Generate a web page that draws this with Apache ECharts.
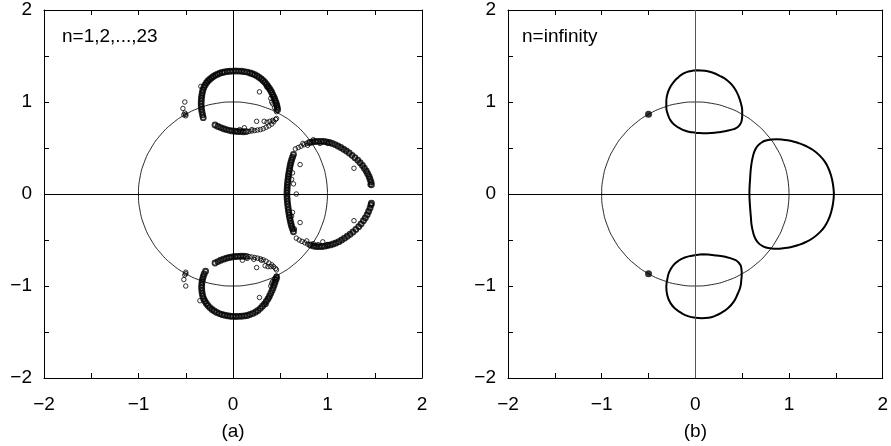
<!DOCTYPE html>
<html>
<head>
<meta charset="utf-8">
<script src="https://cdn.jsdelivr.net/npm/echarts@6/dist/echarts.min.js"></script>
<style>
  html, body { margin: 0; padding: 0; background: #fff; }
  #main { width: 891px; height: 446px; }
</style>
</head>
<body>
<div id="main"></div>
<script>
var dom = document.getElementById('main');
var myChart = echarts.init(dom);
var option;

var FONT = 'Liberation Sans';
var panelLabels = ['(a)', '(b)'];
var panelNotes = ['n=1,2,...,23', 'n=infinity'];

// unit circle
var unitCircle = [
    [1, 0], [0.985, 0.174], [0.94, 0.342], [0.866, 0.5], [0.766, 0.643], [0.643, 0.766],
    [0.5, 0.866], [0.342, 0.94], [0.174, 0.985], [0, 1], [-0.174, 0.985], [-0.342, 0.94],
    [-0.5, 0.866], [-0.643, 0.766], [-0.766, 0.643], [-0.866, 0.5], [-0.94, 0.342], [-0.985, 0.174],
    [-1, 0], [-0.985, -0.174], [-0.94, -0.342], [-0.866, -0.5], [-0.766, -0.643], [-0.643, -0.766],
    [-0.5, -0.866], [-0.342, -0.94], [-0.174, -0.985], [0, -1], [0.174, -0.985], [0.342, -0.94],
    [0.5, -0.866], [0.643, -0.766], [0.766, -0.643], [0.866, -0.5], [0.94, -0.342], [0.985, -0.174], [1, 0]
];

// panel (a): roots for n=1..23, dense bands
var aTopOuter = [
    [-0.315, 0.83], [-0.322, 0.86], [-0.328, 0.89], [-0.333, 0.92], [-0.336, 0.95], [-0.337, 0.98],
    [-0.336, 1.01], [-0.334, 1.04], [-0.33, 1.07], [-0.325, 1.10], [-0.318, 1.13], [-0.308, 1.16],
    [-0.295, 1.185], [-0.28, 1.21], [-0.265, 1.228], [-0.248, 1.245], [-0.228, 1.262], [-0.208, 1.277],
    [-0.186, 1.29], [-0.163, 1.302], [-0.14, 1.312], [-0.115, 1.32], [-0.09, 1.326], [-0.06, 1.331],
    [-0.03, 1.334], [0, 1.336], [0.03, 1.337], [0.06, 1.336], [0.09, 1.334], [0.12, 1.33],
    [0.15, 1.325], [0.18, 1.316], [0.205, 1.307], [0.23, 1.296], [0.255, 1.283], [0.278, 1.267],
    [0.3, 1.25], [0.32, 1.232], [0.338, 1.212], [0.355, 1.19], [0.37, 1.168], [0.385, 1.146],
    [0.398, 1.125], [0.41, 1.103], [0.42, 1.08], [0.43, 1.058], [0.44, 1.035], [0.448, 1.012],
    [0.456, 0.99], [0.463, 0.965], [0.468, 0.94], [0.472, 0.915]
];
var aTopInner = [
    [-0.19, 0.75], [-0.16, 0.735], [-0.13, 0.722], [-0.1, 0.71], [-0.07, 0.70], [-0.04, 0.692],
    [-0.01, 0.686], [0.02, 0.682], [0.05, 0.68], [0.08, 0.678], [0.11, 0.677], [0.14, 0.678]
];
var aRightOuterUp = [
    [0.81, 0.56], [0.84, 0.565], [0.87, 0.57], [0.9, 0.572], [0.93, 0.572], [0.96, 0.57],
    [0.99, 0.567], [1.02, 0.56], [1.05, 0.55], [1.08, 0.537], [1.11, 0.522], [1.14, 0.505],
    [1.17, 0.487], [1.2, 0.467], [1.23, 0.445], [1.26, 0.42], [1.29, 0.395], [1.32, 0.368],
    [1.345, 0.34], [1.37, 0.31], [1.39, 0.28], [1.41, 0.25], [1.425, 0.22], [1.44, 0.19],
    [1.45, 0.16], [1.46, 0.13], [1.465, 0.10]
];
var aRightInnerUp = [
    [0.64, 0.43], [0.63, 0.40], [0.62, 0.37], [0.612, 0.34], [0.605, 0.31], [0.6, 0.28],
    [0.595, 0.25], [0.59, 0.22], [0.586, 0.19], [0.582, 0.16], [0.579, 0.13], [0.576, 0.10],
    [0.574, 0.07], [0.572, 0.04], [0.571, 0.01]
];
var aRightInnerLow = [
    [0.571, -0.02], [0.573, -0.05], [0.575, -0.08], [0.578, -0.11], [0.582, -0.14], [0.586, -0.17],
    [0.59, -0.2], [0.595, -0.23], [0.6, -0.26], [0.606, -0.29], [0.613, -0.32], [0.62, -0.35],
    [0.63, -0.38], [0.64, -0.41]
];
var aRightOuterLow = [
    [0.82, -0.555], [0.85, -0.565], [0.88, -0.57], [0.91, -0.572], [0.94, -0.57], [0.97, -0.567],
    [1.0, -0.56], [1.03, -0.553], [1.06, -0.544], [1.09, -0.533], [1.12, -0.518], [1.15, -0.50],
    [1.18, -0.48], [1.21, -0.46], [1.24, -0.437], [1.27, -0.413], [1.3, -0.385], [1.33, -0.355],
    [1.355, -0.325], [1.38, -0.29], [1.4, -0.26], [1.42, -0.225], [1.435, -0.19], [1.45, -0.155],
    [1.46, -0.12], [1.465, -0.10]
];
var aBottomInner = [
    [-0.19, -0.75], [-0.16, -0.735], [-0.13, -0.72], [-0.1, -0.708], [-0.07, -0.698], [-0.04, -0.69],
    [-0.01, -0.684], [0.02, -0.68], [0.05, -0.678], [0.08, -0.677], [0.11, -0.677], [0.14, -0.678]
];
var aBottomOuter = [
    [-0.29, -0.84], [-0.305, -0.87], [-0.315, -0.90], [-0.323, -0.93], [-0.328, -0.96], [-0.331, -0.99],
    [-0.332, -1.02], [-0.33, -1.05], [-0.326, -1.08], [-0.32, -1.11], [-0.31, -1.14], [-0.297, -1.165],
    [-0.282, -1.19], [-0.265, -1.213], [-0.245, -1.235], [-0.222, -1.255], [-0.198, -1.272], [-0.172, -1.287],
    [-0.145, -1.3], [-0.117, -1.31], [-0.088, -1.318], [-0.058, -1.324], [-0.028, -1.328], [0, -1.33],
    [0.03, -1.331], [0.06, -1.33], [0.09, -1.328], [0.12, -1.325], [0.15, -1.32], [0.18, -1.31],
    [0.21, -1.298], [0.24, -1.283], [0.265, -1.265], [0.29, -1.243], [0.312, -1.22], [0.333, -1.195],
    [0.352, -1.168], [0.37, -1.14], [0.386, -1.11], [0.4, -1.08], [0.413, -1.05], [0.425, -1.02],
    [0.435, -0.99], [0.445, -0.96], [0.455, -0.93], [0.462, -0.905]
];
// panel (a): sparse roots away from the bands
var aStray = [
    [0.28, 1.11], [0.36, 1.16], [0.40, 1.04], [0.41, 1.0], [0.42, 0.98], [0.44, 0.94], [0.46, 0.895],
    [0.17, 0.68], [0.2, 0.685], [0.23, 0.69], [0.26, 0.695], [0.29, 0.70], [0.32, 0.71],
    [0.35, 0.725], [0.38, 0.74], [0.41, 0.76], [0.43, 0.785], [0.45, 0.81], [0.46, 0.82],
    [0.07, 0.70], [0.12, 0.72], [0.2, 0.70], [0.25, 0.79], [0.33, 0.79], [0.36, 0.78], [0.39, 0.79], [0.42, 0.80],
    [0.66, 0.49], [0.69, 0.505], [0.72, 0.52], [0.75, 0.535], [0.78, 0.55],
    [0.74, 0.55], [0.79, 0.53], [0.85, 0.59], [0.92, 0.55], [1.0, 0.55], [1.28, 0.28], [1.45, 0.10],
    [0.71, 0.32], [0.63, 0.23], [0.62, 0.16], [0.64, 0.11], [0.67, 0.0],
    [0.71, -0.31], [0.63, -0.2], [0.62, -0.24], [0.65, -0.38],
    [0.67, -0.48], [0.70, -0.50], [0.73, -0.515], [0.76, -0.53], [0.79, -0.545],
    [0.78, -0.51], [0.85, -0.54], [0.9, -0.55], [0.95, -0.52], [1.0, -0.55], [1.28, -0.29],
    [0.17, -0.68], [0.2, -0.685], [0.23, -0.69], [0.26, -0.697], [0.29, -0.705], [0.32, -0.715],
    [0.35, -0.73], [0.38, -0.75], [0.41, -0.77], [0.43, -0.79], [0.45, -0.81], [0.46, -0.825],
    [0.1, -0.72], [0.15, -0.70], [0.22, -0.71], [0.25, -0.8], [0.3, -0.72], [0.34, -0.78], [0.37, -0.79], [0.4, -0.79],
    [0.28, -1.125], [0.35, -1.2], [0.38, -1.13], [0.4, -1.0], [0.41, -0.97], [0.42, -0.95], [0.44, -0.92], [0.46, -0.89],
    [-0.5, 0.866], [-0.5, 0.85], [-0.51, 0.88], [-0.52, 0.86], [-0.53, 0.93], [-0.51, 1.0], [-0.34, 1.17],
    [-0.5, -0.866], [-0.5, -0.85], [-0.51, -0.88], [-0.52, -0.93], [-0.5, -1.0], [-0.35, -1.16]
];

// panel (b): limit curves
var bTopLoop = [
    [0.02, 1.344], [0.1, 1.34], [0.18, 1.32], [0.26, 1.285], [0.335, 1.24], [0.395, 1.18],
    [0.44, 1.11], [0.47, 1.04], [0.49, 0.97], [0.5, 0.91], [0.5, 0.85], [0.495, 0.80],
    [0.48, 0.76], [0.45, 0.725], [0.41, 0.705], [0.33, 0.685], [0.25, 0.672], [0.17, 0.663],
    [0.106, 0.66], [0.035, 0.663], [-0.035, 0.67], [-0.1, 0.685], [-0.16, 0.71], [-0.22, 0.75],
    [-0.265, 0.80], [-0.295, 0.87], [-0.31, 0.94], [-0.31, 1.01], [-0.30, 1.08], [-0.275, 1.15],
    [-0.23, 1.22], [-0.18, 1.27], [-0.125, 1.31], [-0.055, 1.335], [0.02, 1.344]
];
var bRightLoop = [
    [1.479, 0], [1.47, 0.1], [1.45, 0.195], [1.42, 0.28], [1.38, 0.354], [1.325, 0.42],
    [1.256, 0.478], [1.18, 0.522], [1.097, 0.555], [1.015, 0.578], [0.937, 0.59], [0.87, 0.595],
    [0.81, 0.592], [0.755, 0.582], [0.707, 0.56], [0.667, 0.525], [0.637, 0.478], [0.615, 0.41],
    [0.6, 0.335], [0.59, 0.25], [0.584, 0.16], [0.579, 0.08], [0.577, 0], [0.58, -0.08],
    [0.586, -0.17], [0.593, -0.255], [0.6, -0.336], [0.615, -0.41], [0.637, -0.478], [0.667, -0.525],
    [0.707, -0.56], [0.755, -0.582], [0.81, -0.592], [0.87, -0.595], [0.937, -0.59], [1.015, -0.578],
    [1.097, -0.555], [1.18, -0.522], [1.256, -0.478], [1.325, -0.42], [1.38, -0.354], [1.42, -0.28],
    [1.45, -0.195], [1.47, -0.1], [1.479, 0]
];
var bBottomLoop = [
    [0.07, -0.655], [0.2, -0.665], [0.32, -0.683], [0.41, -0.71], [0.46, -0.743], [0.49, -0.8],
    [0.495, -0.867], [0.49, -0.94], [0.48, -1.01], [0.45, -1.09], [0.41, -1.17], [0.35, -1.24],
    [0.28, -1.29], [0.21, -1.325], [0.14, -1.345], [0.07, -1.35], [0, -1.345], [-0.07, -1.33],
    [-0.14, -1.30], [-0.21, -1.25], [-0.265, -1.186], [-0.3, -1.1], [-0.31, -1.01], [-0.3, -0.93],
    [-0.28, -0.85], [-0.24, -0.78], [-0.18, -0.726], [-0.12, -0.693], [-0.05, -0.673], [0.07, -0.655]
];
var bDots = [[-0.5, 0.866], [-0.5, -0.866]];

var aDense = [].concat(aTopOuter, aTopInner, aRightOuterUp, aRightInnerUp,
    aRightInnerLow, aRightOuterLow, aBottomInner, aBottomOuter);

function tickLabel(v) {
    if (Math.abs(v - Math.round(v)) > 1e-9) return '';
    return v < 0 ? '\u2212' + (-v) : String(v);
}

var grids = [
    { left: 44, top: 10, width: 378, height: 377 },
    { left: 508, top: 10, width: 378, height: 377 }
];

var xAxes = [], yAxes = [];
grids.forEach(function (g, i) {
    var common = {
        gridIndex: i, type: 'value', min: -2, max: 2, interval: 0.5,
        axisLine: { show: true, onZero: false, lineStyle: { color: '#000', width: 1 } },
        axisTick: { show: true, inside: true, length: 5, lineStyle: { color: '#000' } },
        splitLine: { show: false }
    };
    var lab = { formatter: tickLabel, fontSize: 19, color: '#000', fontFamily: FONT };
    xAxes.push(Object.assign({}, common, {
        position: 'bottom',
        axisLabel: Object.assign({ margin: 17 }, lab),
        name: panelLabels[i], nameLocation: 'middle', nameGap: 44,
        nameTextStyle: { fontSize: 19, color: '#000', fontFamily: FONT }
    }));
    xAxes.push(Object.assign({}, common, { position: 'top', axisLabel: { show: false } }));
    yAxes.push(Object.assign({}, common, {
        position: 'left',
        axisLabel: Object.assign({ margin: 12 }, lab)
    }));
    yAxes.push(Object.assign({}, common, { position: 'right', axisLabel: { show: false } }));
});

function zeroLines(vColor) {
    return {
        silent: true, symbol: 'none', label: { show: false },
        emphasis: { disabled: true },
        data: [
            { xAxis: 0, lineStyle: { color: vColor, width: 1, type: 'solid' } },
            { yAxis: 0, lineStyle: { color: '#000', width: 1, type: 'solid' } }
        ]
    };
}

function circleSeries(i) {
    return {
        type: 'line', xAxisIndex: 2 * i, yAxisIndex: 2 * i, data: unitCircle,
        smooth: true, showSymbol: false, silent: true,
        lineStyle: { color: '#111', width: 0.9 },
        markLine: zeroLines(i === 0 ? '#000' : '#555'), z: 2
    };
}

function loopSeries(data) {
    return {
        type: 'line', xAxisIndex: 2, yAxisIndex: 2, data: data,
        smooth: true, showSymbol: false, silent: true,
        lineStyle: { color: '#000', width: 2 }, z: 3
    };
}

option = {
    animation: false,
    backgroundColor: '#fff',
    title: panelNotes.map(function (t, i) {
        return {
            text: t, left: i === 0 ? 62 : 522, top: 27, padding: 0,
            textStyle: { fontSize: 19, fontWeight: 'normal', color: '#000', fontFamily: FONT }
        };
    }),
    grid: grids,
    xAxis: xAxes,
    yAxis: yAxes,
    series: [
        circleSeries(0),
        {
            type: 'scatter', xAxisIndex: 0, yAxisIndex: 0, data: aDense,
            symbol: 'circle', symbolSize: 5, silent: true,
            itemStyle: { color: 'rgba(0,0,0,0)', borderColor: '#000', borderWidth: 1.9 }, z: 4
        },
        {
            type: 'scatter', xAxisIndex: 0, yAxisIndex: 0, data: aStray,
            symbol: 'circle', symbolSize: 4.5, silent: true,
            itemStyle: { color: 'rgba(0,0,0,0)', borderColor: '#000', borderWidth: 1 }, z: 4
        },
        circleSeries(1),
        loopSeries(bTopLoop),
        loopSeries(bRightLoop),
        loopSeries(bBottomLoop),
        {
            type: 'scatter', xAxisIndex: 2, yAxisIndex: 2, data: bDots,
            symbol: 'circle', symbolSize: 7, silent: true,
            itemStyle: { color: '#000' }, z: 4
        }
    ]
};

myChart.setOption(option);
</script>
</body>
</html>
